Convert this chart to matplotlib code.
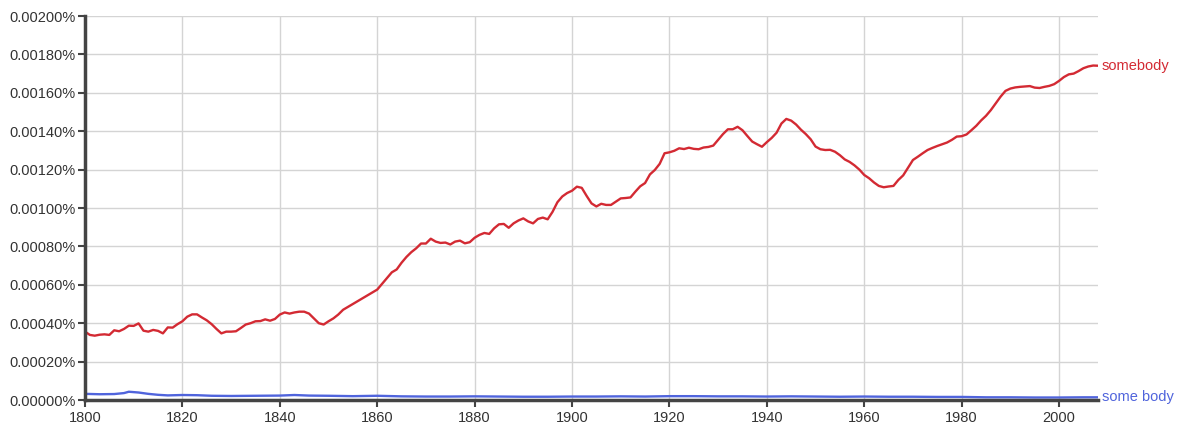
import numpy as np
import matplotlib.pyplot as plt
from matplotlib.ticker import FuncFormatter

plt.rcParams['font.family'] = ['Liberation Sans', 'DejaVu Sans']

# values are in units of 0.00001 %
years = list(range(1800, 2009))
somebody_e5 = [
    35.6, 33.9, 33.5, 34.0, 34.2, 33.9, 36.3, 35.8, 37.0, 38.7,
    38.6, 39.9, 36.1, 35.6, 36.5, 36.0, 34.7, 37.8, 37.7, 39.5,
    41.0, 43.4, 44.6, 44.6, 43.0, 41.5, 39.5, 37.0, 34.7, 35.6,
    35.6, 35.8, 37.5, 39.3, 40.0, 41.0, 41.1, 42.0, 41.3, 42.2,
    44.5, 45.6, 45.0, 45.6, 46.0, 46.0, 45.0, 42.5, 40.0, 39.3,
    41.0, 42.5, 44.5, 47.0, 48.5, 50.0, 51.5, 53.0, 54.5, 56.0,
    57.5, 60.5, 63.5, 66.5, 68.0, 71.5, 74.5, 77.0, 79.0, 81.5,
    81.5, 84.0, 82.5, 81.8, 82.0, 81.0, 82.5, 83.0, 81.6, 82.2,
    84.5, 86.0, 87.0, 86.5, 89.4, 91.5, 91.7, 89.7, 92.0, 93.5,
    94.6, 93.0, 92.0, 94.3, 95.0, 94.1, 98.0, 103.0, 106.0, 107.8,
    109.0, 111.1, 110.5, 106.3, 102.4, 100.8, 102.2, 101.6, 101.6, 103.3,
    105.0, 105.2, 105.5, 108.5, 111.3, 113.0, 117.5, 119.8, 123.0, 128.5,
    129.0, 129.8, 131.1, 130.7, 131.4, 130.8, 130.6, 131.5, 131.8, 132.5,
    135.5, 138.5, 141.0, 141.0, 142.3, 140.5, 137.5, 134.6, 133.2, 131.9,
    134.3, 136.5, 139.2, 144.0, 146.4, 145.5, 143.5, 140.8, 138.5, 135.8,
    132.0, 130.6, 130.2, 130.3, 129.3, 127.5, 125.3, 124.0, 122.2, 120.0,
    117.2, 115.5, 113.3, 111.5, 110.8, 111.2, 111.5, 114.6, 117.0, 121.0,
    125.0, 126.7, 128.5, 130.2, 131.3, 132.3, 133.2, 134.1, 135.5, 137.2,
    137.4, 138.3, 140.5, 142.8, 145.6, 148.0, 151.0, 154.5, 158.0, 161.0,
    162.2, 162.8, 163.1, 163.3, 163.5, 162.7, 162.5, 163.1, 163.6, 164.5,
    166.2, 168.2, 169.6, 170.0, 171.3, 172.8, 173.7, 174.2, 174.1,
]

some_body_years = [1800, 1803, 1806, 1808, 1809, 1811, 1813, 1815, 1817, 1820,
                   1823, 1826, 1830, 1835, 1840, 1843, 1846, 1850, 1855, 1860,
                   1865, 1870, 1875, 1880, 1885, 1890, 1895, 1900, 1905, 1910,
                   1915, 1920, 1925, 1930, 1935, 1940, 1945, 1950, 1955, 1960,
                   1965, 1970, 1975, 1980, 1985, 1990, 1995, 2000, 2005, 2008]
some_body_e5 = [3.2, 3.0, 3.1, 3.6, 4.3, 3.9, 3.2, 2.7, 2.4, 2.6,
                2.5, 2.2, 2.1, 2.2, 2.3, 2.6, 2.3, 2.2, 2.0, 2.2,
                1.9, 1.8, 1.8, 1.9, 1.8, 1.7, 1.7, 1.8, 1.8, 1.9,
                1.8, 2.0, 2.0, 1.9, 1.9, 1.8, 1.9, 1.8, 1.7, 1.8,
                1.7, 1.7, 1.6, 1.6, 1.4, 1.4, 1.3, 1.3, 1.4, 1.4]

red = '#d32a33'
blue = '#5064dc'

fig = plt.figure(figsize=(12, 4.34), dpi=100)
ax = fig.add_axes([85 / 1200, 1 - 400 / 434, (1098 - 85) / 1200, 384 / 434])

somebody = np.array(somebody_e5) * 1e-5
some_body = np.array(some_body_e5) * 1e-5

ax.plot(years, somebody, color=red, lw=1.7, solid_joinstyle='round')
ax.plot(some_body_years, some_body, color=blue, lw=1.7)

ax.text(years[-1] + 0.8, somebody[-1], 'somebody', color=red,
        fontsize=10.5, va='center', ha='left')
ax.text(some_body_years[-1] + 0.8, some_body[-1], 'some body', color=blue,
        fontsize=10.5, va='center', ha='left')

ax.set_xlim(1800, 2008)
ax.set_ylim(0, 0.002)
ax.set_xticks(range(1800, 2001, 20))
ax.set_yticks(np.arange(0, 0.00201, 0.0002))
ax.yaxis.set_major_formatter(FuncFormatter(lambda v, p: f"{v:.5f}%"))

ax.grid(True, color='#d4d4d4', lw=1)
ax.set_axisbelow(True)
for s in ['top', 'right']:
    ax.spines[s].set_visible(False)
for s in ['left', 'bottom']:
    ax.spines[s].set_color('#444444')
    ax.spines[s].set_linewidth(2.5)
ax.tick_params(axis='both', colors='#444444', width=1.5, length=5,
               labelsize=10.5, labelcolor='#333333')
ax.tick_params(axis='y', pad=2)
ax.tick_params(axis='x', pad=3)

plt.savefig('out.png', dpi=100)
